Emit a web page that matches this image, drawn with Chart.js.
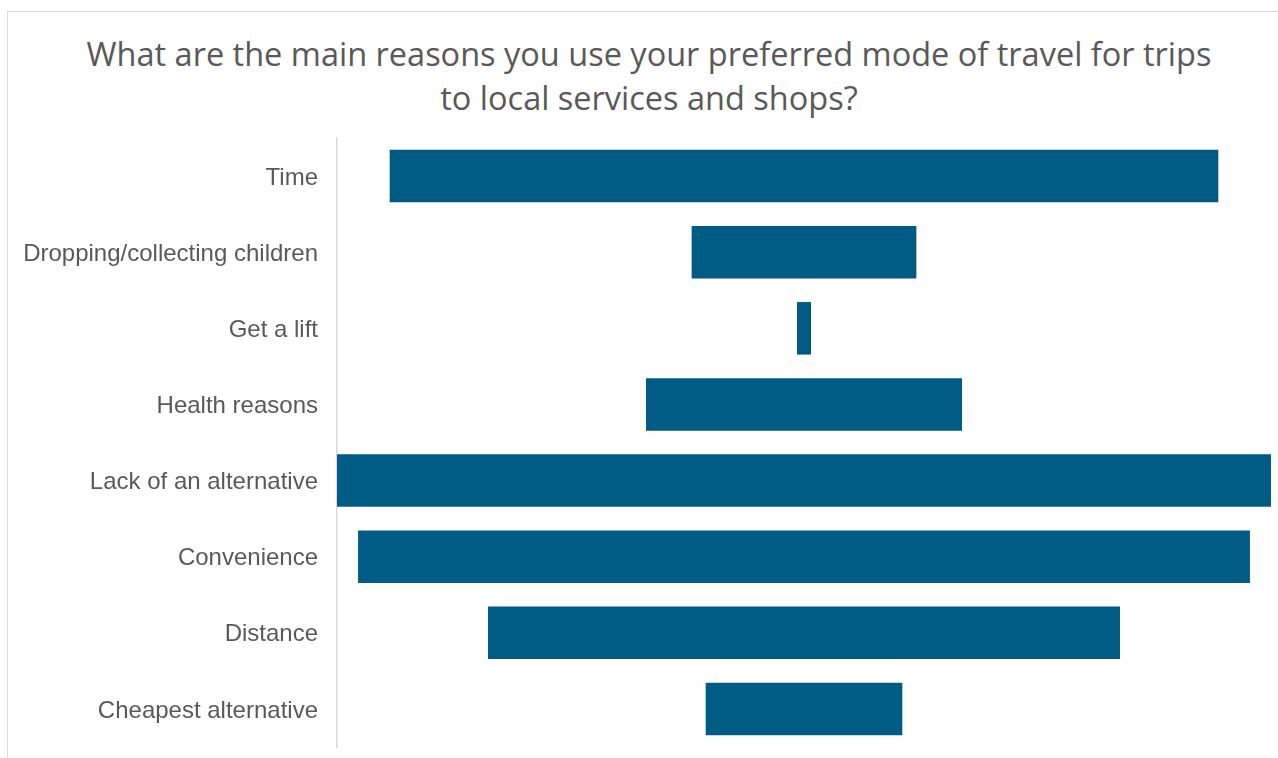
<!DOCTYPE html>
<html>
<head>
<meta charset="utf-8">
<script src="https://cdn.jsdelivr.net/npm/chart.js@4"></script>
<style>
    html, body {
        margin: 0;
        padding: 0;
        width: 1278px;
        height: 758px;
        overflow: hidden;
        background: #fff;
    }
    .frame {
        position: absolute;
        left: 7px;
        top: 11px;
        width: 1300px;
        height: 800px;
        border-top: 1px solid #d9d9d9;
        border-left: 1px solid #d9d9d9;
    }
    .title {
        position: absolute;
        left: 8px;
        top: 32px;
        width: 1282px;
        text-align: center;
        font-family: "Open Sans", sans-serif;
        font-size: 32.5px;
        line-height: 44px;
        color: #595959;
        white-space: nowrap;
    }
    .chart-box {
        position: absolute;
        left: 8px;
        top: 120px;
        width: 1282px;
        height: 638px;
    }
</style>
</head>
<body>
<div class="frame"></div>
<div class="title">What are the main reasons you use your preferred mode of travel for trips<br>to local services and shops?</div>
<div class="chart-box"><canvas id="funnelChart"></canvas></div>

<script>
// responses per reason
const reasons = [
    'Time',
    'Dropping/collecting children',
    'Get a lift',
    'Health reasons',
    'Lack of an alternative',
    'Convenience',
    'Distance',
    'Cheapest alternative'
];
const responses = [118, 32, 2, 45, 133, 127, 90, 28];

const barColor = '#005b85';
const textColor = '#595959';

document.addEventListener('DOMContentLoaded', () => {
    initFunnel();
});

function initFunnel() {
    const ctx = document.getElementById('funnelChart').getContext('2d');
    const half = Math.max(...responses) / 2;

    // each bar is centred on zero so the rows line up like a funnel
    const spans = responses.map(v => [-v / 2, v / 2]);

    new Chart(ctx, {
        type: 'bar',
        data: {
            labels: reasons,
            datasets: [{
                label: 'Responses',
                data: spans,
                backgroundColor: barColor,
                borderWidth: 0,
                categoryPercentage: 1,
                barPercentage: 0.69
            }]
        },
        options: {
            indexAxis: 'y',
            responsive: true,
            maintainAspectRatio: false,
            animation: false,
            layout: {
                padding: { top: 18, right: 19, bottom: 11, left: 0 }
            },
            plugins: {
                legend: { display: false },
                tooltip: { enabled: false }
            },
            scales: {
                x: {
                    display: false,
                    min: -half,
                    max: half
                },
                y: {
                    // fixed label column, and no extra room for the first/last label
                    afterFit: (scale) => {
                        scale.width = 329;
                        scale.paddingTop = 0;
                        scale.paddingBottom = 0;
                    },
                    grid: { display: false },
                    border: { display: true, color: '#d9d9d9', width: 1.5 },
                    ticks: {
                        color: textColor,
                        padding: 11,
                        labelOffset: 2,
                        font: { family: '"Liberation Sans", Arial, sans-serif', size: 24 }
                    }
                }
            }
        }
    });
}
</script>
</body>
</html>
